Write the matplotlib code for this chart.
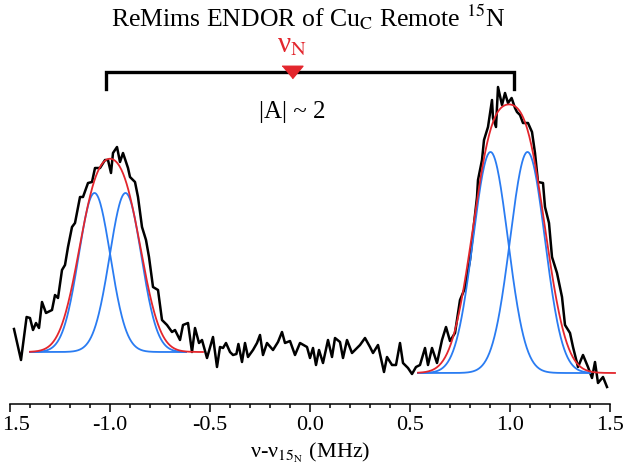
import numpy as np
import matplotlib
matplotlib.use("Agg")
import matplotlib.pyplot as plt
from matplotlib.ticker import MultipleLocator, FixedFormatter, FixedLocator
from matplotlib.transforms import ScaledTranslation

plt.rcParams['font.family'] = ['Liberation Serif', 'DejaVu Serif']
plt.rcParams['mathtext.fontset'] = 'stix'

## measured spectrum (MHz offset vs. intensity, arbitrary units)
freq = [-1.480, -1.445, -1.417, -1.400, -1.385, -1.370, -1.355, -1.340, -1.320, -1.290,
        -1.275, -1.260, -1.240, -1.225, -1.210, -1.190, -1.175, -1.150, -1.135, -1.110,
        -1.090, -1.075, -1.050, -1.025, -1.010, -0.995, -0.985, -0.965, -0.950, -0.935,
        -0.910, -0.900, -0.875, -0.860, -0.840, -0.820, -0.805, -0.785, -0.760, -0.740,
        -0.715, -0.690, -0.675, -0.650, -0.635, -0.610, -0.590, -0.575, -0.555, -0.540,
        -0.515, -0.485, -0.465, -0.450, -0.435, -0.420, -0.400, -0.385, -0.368, -0.358,
        -0.340, -0.325, -0.310, -0.285, -0.265, -0.250, -0.235, -0.215, -0.185, -0.160,
        -0.140, -0.125, -0.100, -0.075, -0.050, -0.015, 0.000, 0.015, 0.030, 0.045,
        0.065, 0.090, 0.110, 0.125, 0.150, 0.165, 0.185, 0.210, 0.250, 0.275,
        0.300, 0.315, 0.340, 0.370, 0.385, 0.410, 0.430, 0.450, 0.465, 0.490,
        0.510, 0.530, 0.550, 0.575, 0.590, 0.610, 0.635, 0.660, 0.680, 0.700,
        0.725, 0.750, 0.775, 0.800, 0.815, 0.835, 0.840, 0.860, 0.870, 0.890,
        0.910, 0.915, 0.930, 0.940, 0.960, 0.975, 0.990, 1.008, 1.025, 1.035,
        1.050, 1.065, 1.090, 1.110, 1.125, 1.140, 1.165, 1.175, 1.195, 1.210,
        1.235, 1.260, 1.275, 1.300, 1.315, 1.340, 1.365, 1.390, 1.410, 1.425,
        1.440, 1.465, 1.485]
intensity = [0.23, -0.08, 0.35, 0.34, 0.22, 0.29, 0.24, 0.50, 0.39, 0.42,
             0.57, 0.54, 0.82, 0.87, 1.05, 1.25, 1.29, 1.55, 1.55, 1.69,
             1.70, 1.84, 1.84, 1.92, 1.92, 1.79, 1.99, 2.05, 1.90, 1.99,
             1.84, 1.75, 1.70, 1.55, 1.25, 1.12, 0.95, 0.65, 0.62, 0.32,
             0.27, 0.20, 0.22, 0.12, 0.27, 0.29, 0.00, 0.24, 0.09, 0.12,
             -0.06, 0.15, -0.15, 0.05, 0.04, 0.09, 0.00, -0.03, -0.02, 0.08,
             -0.10, 0.09, -0.05, 0.02, 0.09, 0.17, -0.03, 0.09, 0.02, 0.10,
             0.20, 0.09, 0.11, -0.03, 0.09, 0.05, -0.06, 0.04, -0.13, 0.02,
             -0.11, 0.12, -0.05, 0.14, 0.10, -0.06, 0.12, -0.01, 0.07, 0.14,
             0.05, -0.01, 0.07, -0.20, -0.05, -0.13, -0.13, 0.09, -0.11, -0.16,
             -0.22, -0.15, -0.13, 0.04, -0.13, 0.04, -0.11, 0.12, 0.25, 0.11,
             0.19, 0.52, 0.64, 0.92, 1.19, 1.55, 1.72, 1.92, 2.12, 2.25,
             2.52, 2.34, 2.25, 2.65, 2.47, 2.59, 2.49, 2.54, 2.44, 2.40,
             2.37, 2.29, 2.29, 2.20, 1.99, 1.70, 1.69, 1.45, 1.29, 0.95,
             0.79, 0.55, 0.27, 0.19, 0.05, -0.15, -0.03, -0.15, -0.26, -0.10,
             -0.31, -0.25, -0.35]

## gaussian fit parameters for the two doublets (left, right)
fit_center = [-1.0, 0.995]
fit_half_split = [0.0775, 0.0925]
fit_baseline = [0.0, -0.21]
red_amp = [1.40, 2.06]
red_sigma = [0.09, 0.10]
blue_amp = [1.59, 2.21]
blue_sigma = [0.079, 0.087]
red_range = [(-1.40, -0.535), (0.54, 1.525)]
blue_range = [(-1.40, -0.62), (0.54, 1.40)]

nu_n = -0.09
bracket_ends = [-1.02, 1.02]

tick_pos = [-1.5, -1.0, -0.5, 0.0, 0.5, 1.0, 1.5]
tick_labels = ['1.5', '-1.0', '-0.5', '0.0', '0.5', '1.0', '1.5']

red = '#e3262d'
blue = '#2a7cf2'


def gauss(x, a, c, s):
    return a * np.exp(-(x - c) ** 2 / (2 * s ** 2))


fig = plt.figure(figsize=(6.25, 4.74), dpi=100)
ax = fig.add_axes([10 / 625, 70 / 474, 600 / 625, 404 / 474])

ax.plot(freq, intensity, color='black', lw=1.8, zorder=2, clip_on=False)

for i in range(2):
    c, h, b = fit_center[i], fit_half_split[i], fit_baseline[i]
    xb = np.linspace(blue_range[i][0], blue_range[i][1], 300)
    for cc in (c - h, c + h):
        ax.plot(xb, b + gauss(xb, blue_amp[i], cc, blue_sigma[i]), color=blue, lw=1.3, zorder=3, clip_on=False)
    xr = np.linspace(red_range[i][0], red_range[i][1], 300)
    yr = b + gauss(xr, red_amp[i], c - h, red_sigma[i]) + gauss(xr, red_amp[i], c + h, red_sigma[i])
    ax.plot(xr, yr, color=red, lw=1.3, zorder=4, clip_on=False)

# hyperfine bracket and nu_N marker
ax.plot([bracket_ends[0], bracket_ends[0], bracket_ends[1], bracket_ends[1]],
        [2.63, 2.80, 2.80, 2.63], color='black', lw=2.4, solid_joinstyle='miter', clip_on=False)
ax.plot([nu_n], [2.80], marker=[(-1, 0.6), (1, 0.6), (0, -0.6)], markersize=15,
        color=red, linestyle='none', clip_on=False, zorder=5)
ax.text(nu_n, 3.07, 'ν$_\\mathrm{N}$', color=red, fontsize=21, ha='center', va='center')
ax.text(nu_n, 2.40, '|A| ~ 2', fontsize=18, ha='center', va='center')

fig.text(308 / 625, 1 - 17 / 474, r'ReMims ENDOR of Cu$_\mathrm{C}$ Remote $^{15}$N',
         fontsize=18.5, ha='center', va='center')

ax.set_xlim(-1.5, 1.5)
ax.set_ylim(-0.52, 3.52)
ax.xaxis.set_major_locator(FixedLocator(tick_pos))
ax.xaxis.set_major_formatter(FixedFormatter(tick_labels))
ax.xaxis.set_minor_locator(MultipleLocator(0.1))
ax.tick_params(axis='x', which='major', length=6, width=1.1, labelsize=16, pad=3)
ax.tick_params(axis='x', which='minor', length=3, width=1.1)
ax.yaxis.set_visible(False)
for s in ['left', 'right', 'top']:
    ax.spines[s].set_visible(False)
ax.spines['bottom'].set_linewidth(1.1)
ax.set_xlabel('ν-ν$_{15_\\mathrm{N}}$ (MHz)', fontsize=16, labelpad=4)
ax.patch.set_alpha(0)

fig.canvas.draw()
first = ax.get_xticklabels()[0]
first.set_horizontalalignment('left')
first.set_transform(first.get_transform() + ScaledTranslation(-0.08, 0, fig.dpi_scale_trans))

fig.savefig('out.png', dpi=100)
